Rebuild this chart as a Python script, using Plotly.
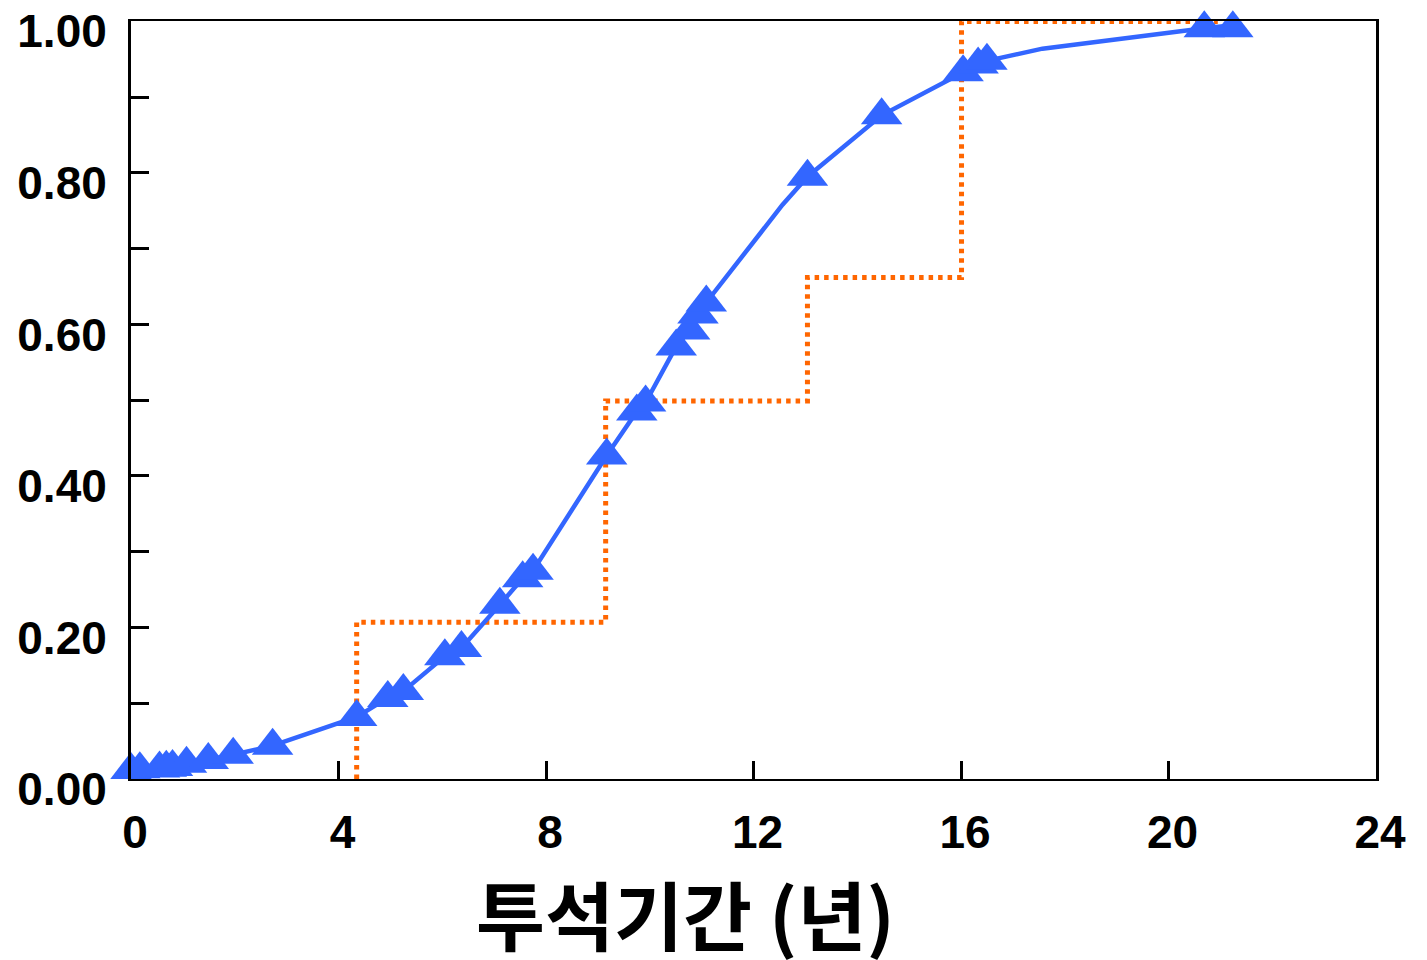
import plotly.graph_objects as go

# Data
marker_x = [0.0, 0.17, 0.55, 0.68, 0.80, 1.07, 1.49, 1.97, 2.73, 4.35, 4.95, 5.25,
            6.05, 6.37, 7.11, 7.55, 7.75, 9.17, 9.75, 9.92, 10.51, 10.77, 10.93,
            11.09, 13.04, 14.47, 16.04, 16.33, 16.50, 20.69, 21.24]
marker_y = [0.012, 0.013, 0.014, 0.015, 0.016, 0.020, 0.025, 0.032, 0.044, 0.082,
            0.107, 0.116, 0.162, 0.173, 0.230, 0.265, 0.275, 0.427, 0.485, 0.497,
            0.571, 0.592, 0.613, 0.629, 0.795, 0.876, 0.933, 0.943, 0.948, 0.991, 0.991]

line_x = [0.0, 0.17, 0.55, 0.80, 1.07, 1.49, 1.97, 2.73, 4.35, 4.95, 5.25, 6.05, 6.37,
          7.11, 7.55, 7.75, 8.59, 9.17, 9.75, 9.92, 10.51, 10.77, 10.93, 11.09,
          12.56, 13.04, 14.47, 16.04, 16.33, 16.50, 17.57, 20.69, 21.24]
line_y = [0.012, 0.013, 0.014, 0.016, 0.020, 0.025, 0.032, 0.044, 0.082, 0.107, 0.116,
          0.162, 0.173, 0.230, 0.265, 0.275, 0.365, 0.427, 0.485, 0.497, 0.571, 0.592,
          0.613, 0.629, 0.758, 0.795, 0.876, 0.933, 0.943, 0.948, 0.964, 0.991, 0.995]

step_x = [4.35, 4.35, 9.15, 9.15, 13.04, 13.04, 16.01, 16.01, 20.95]
step_y = [0.0, 0.207, 0.207, 0.499, 0.499, 0.662, 0.662, 1.0, 1.0]

x_ticks = [0, 4, 8, 12, 16, 20, 24]
y_ticks = [0.0, 0.2, 0.4, 0.6, 0.8, 1.0]

x_title = "투석기간 (년)"

BLUE = "#3366FF"
ORANGE = "#FF6600"

# page is rendered with an 8px body offset
W, H = 1419, 952
PL, PR, PT, PB = 123, 1368, 13, 771  # plot area in figure coords

fig = go.Figure()

fig.add_trace(go.Scatter(
    x=step_x, y=step_y, mode="lines",
    line=dict(color=ORANGE, width=5, dash="4.5px,5px"),
    cliponaxis=False, showlegend=False, hoverinfo="skip"))

fig.add_trace(go.Scatter(
    x=line_x, y=line_y, mode="lines",
    line=dict(color=BLUE, width=4.5),
    cliponaxis=False, showlegend=False))

fig.add_trace(go.Scatter(
    x=marker_x, y=marker_y, mode="markers",
    marker=dict(symbol="triangle-up", size=36, color=BLUE, line=dict(width=0)),
    cliponaxis=False, showlegend=False))

tick_font = dict(family="Liberation Sans, Arial, sans-serif", size=46, color="black", weight="bold")

fig.update_layout(
    width=W, height=H,
    margin=dict(l=PL, r=W - PR, t=PT, b=H - PB, autoexpand=False),
    paper_bgcolor="white", plot_bgcolor="white",
    xaxis=dict(
        range=[0, 24], tickvals=x_ticks, ticktext=[str(v) for v in x_ticks],
        ticks="inside", ticklen=18, tickwidth=3, tickcolor="black",
        showline=True, linecolor="black", linewidth=2, mirror=True,
        showgrid=False, zeroline=False, tickfont=tick_font,
        ticklabelstandoff=12, ticklabeloverflow="allow", ticklabelshift=4,
    ),
    yaxis=dict(
        range=[0, 1.0005], tickvals=y_ticks, ticktext=[f"{v:.2f}" for v in y_ticks],
        ticks="inside", ticklen=18, tickwidth=3, tickcolor="black",
        minor=dict(tickvals=[0.1, 0.3, 0.5, 0.7, 0.9], ticks="inside", ticklen=18,
                   tickwidth=3, tickcolor="black", showgrid=False),
        showline=True, linecolor="black", linewidth=3, mirror=True,
        showgrid=False, zeroline=False, tickfont=tick_font,
        ticklabelstandoff=12, ticklabeloverflow="allow", ticklabelshift=10,
    ),
    annotations=[dict(
        text=x_title, xref="paper", yref="paper",
        x=(677 - PL) / (PR - PL), y=(PB - 904) / (PB - PT),
        xanchor="center", yanchor="middle", showarrow=False,
        font=dict(family="Noto Sans CJK KR", size=75, color="black", weight="bold"),
    )],
)

fig.write_html("out.html")
